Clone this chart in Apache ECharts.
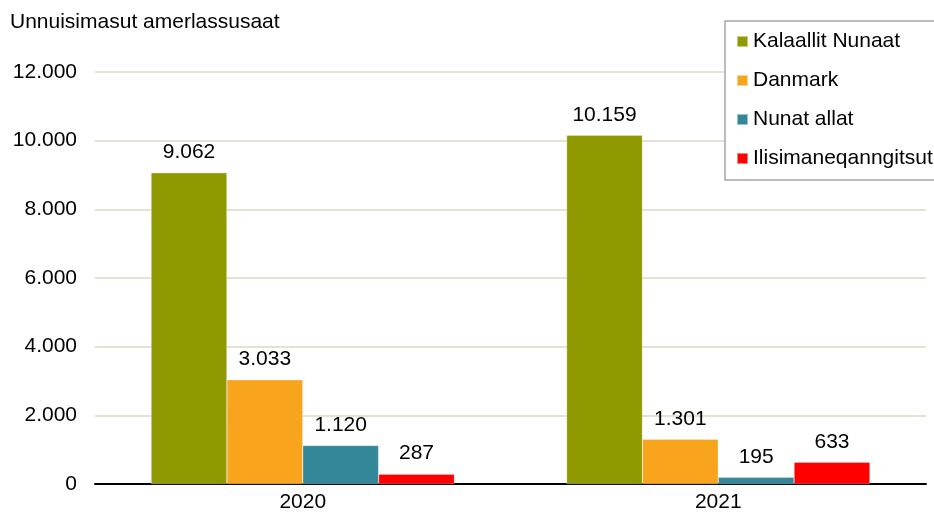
<!DOCTYPE html>
<html><head><meta charset="utf-8">
<script src="https://cdn.jsdelivr.net/npm/echarts@6/dist/echarts.min.js"></script>
<style>html,body{margin:0;padding:0;background:#fff}#c{width:934px;height:519px}</style>
</head><body><div id="c"></div>
<script>
const categories = ['2020', '2021'];
const seriesNames = ['Kalaallit Nunaat', 'Danmark', 'Nunat allat', 'Ilisimaneqanngitsut'];
const kalaallit = [9062, 10159];
const danmark = [3033, 1301];
const nunatAllat = [1120, 195];
const ilisimaneqanngitsut = [287, 633];
const colors = ['#8f9a00', '#f8a51d', '#348699', '#ff0000'];
const values = [kalaallit, danmark, nunatAllat, ilisimaneqanngitsut];
const fmt = v => String(v).replace(/\B(?=(\d{3})+(?!\d))/g, '.');
const font = 'Liberation Sans, Arial, sans-serif';
const fs = 21;
const chart = echarts.init(document.getElementById('c'));
chart.setOption({
  animation: false,
  textStyle: {fontFamily: font},
  title: {text: 'Unnuisimasut amerlassusaat', left: 5, top: 7,
    textStyle: {fontSize: fs, fontWeight: 'normal', color: '#000', fontFamily: font}},
  legend: {orient: 'vertical', left: 725, top: 21, padding: [10, 60, 11, 11],
    itemWidth: 11, itemHeight: 11, itemGap: 18, icon: 'rect',
    borderColor: '#a6a6a6', borderWidth: 1.5, backgroundColor: '#fff',
    textStyle: {fontSize: fs, color: '#000', fontFamily: font},
    data: seriesNames},
  grid: {left: 95, right: 8, top: 72, bottom: 35},
  xAxis: {type: 'category', data: categories,
    axisLine: {lineStyle: {color: '#000', width: 2}}, axisTick: {show: false},
    axisLabel: {fontSize: fs, color: '#000', margin: 8, fontFamily: font}},
  yAxis: {type: 'value', min: 0, max: 12000, interval: 2000,
    axisLine: {show: false}, axisTick: {show: false},
    splitLine: {lineStyle: {color: '#ddd9c3', width: 1.5}},
    axisLabel: {fontSize: fs, color: '#000', margin: 18, formatter: fmt, fontFamily: font}},
  series: seriesNames.map((n, i) => ({
    name: n, type: 'bar', data: values[i],
    barGap: '0%', barCategoryGap: '27%',
    itemStyle: {color: colors[i], borderColor: 'rgba(255,255,255,0.5)', borderWidth: 0.5},
    label: {show: true, position: 'top', distance: 10, fontSize: fs, color: '#000',
      formatter: p => fmt(p.value), fontFamily: font}
  }))
});
</script></body></html>
